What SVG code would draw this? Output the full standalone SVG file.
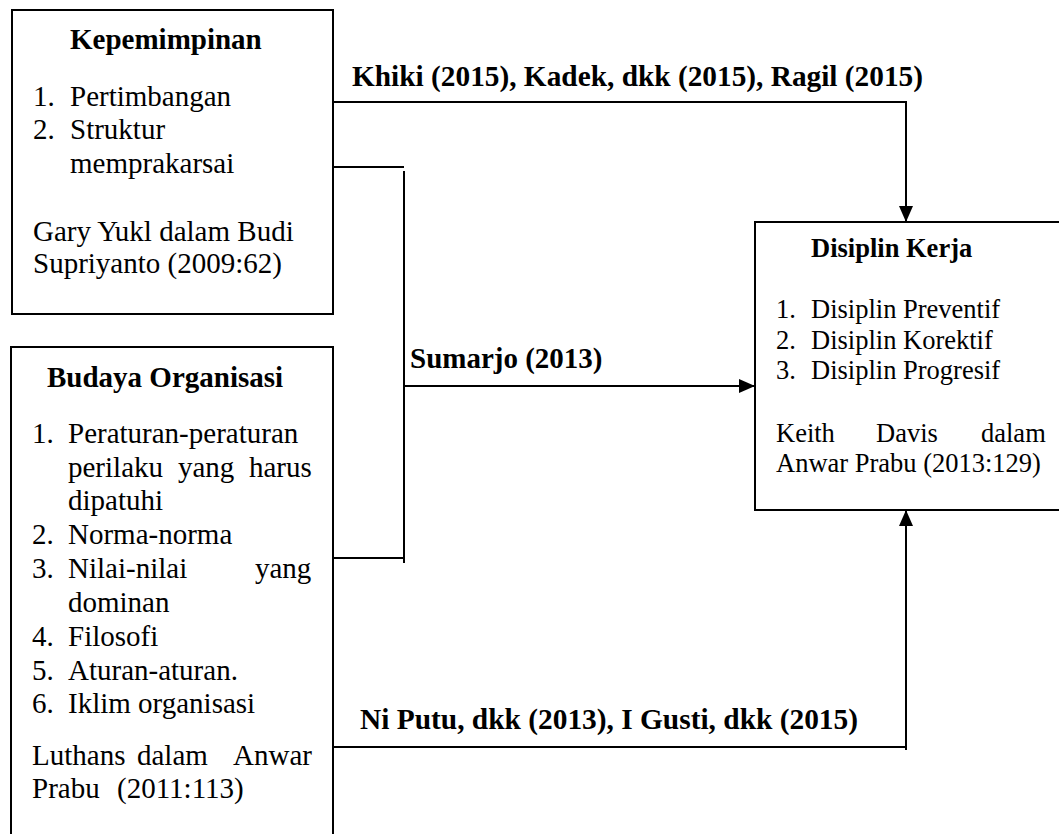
<svg xmlns="http://www.w3.org/2000/svg" width="1059" height="834" viewBox="0 0 1059 834" font-family="Liberation Serif, Times New Roman, serif">
<defs>
<marker id="arr" markerUnits="userSpaceOnUse" markerWidth="16" markerHeight="14" refX="16" refY="7" orient="auto">
<polygon points="0,0 16,7 0,14" fill="#000"/>
</marker>
<style>
.box{fill:#fff;stroke:#000;stroke-width:2}
.ln{fill:none;stroke:#000;stroke-width:2}
.t,.b,.s,.sb{font-family:'Liberation Serif','Times New Roman',serif;fill:#000}
.t{font-size:29px}
.b{font-size:29px;font-weight:bold}
.s{font-size:26.5px}
.sb{font-size:26.5px;font-weight:bold}
</style>
</defs>
<g id="connectors">
<path class="ln" d="M333,102 H906 V222" marker-end="url(#arr)"/>
<path class="ln" d="M333,167 H404"/>
<path class="ln" d="M404,171 V563"/>
<path class="ln" d="M333,558 H404"/>
<path class="ln" d="M404,386 H755" marker-end="url(#arr)"/>
<path class="ln" d="M333,747 H906"/>
<path class="ln" d="M906,750 V510" marker-end="url(#arr)"/>
<text class="b" x="352" y="86" textLength="571" lengthAdjust="spacingAndGlyphs">Khiki (2015), Kadek, dkk (2015), Ragil (2015)</text>
<text class="b" x="410" y="368">Sumarjo (2013)</text>
<text class="b" x="360" y="729" textLength="498" lengthAdjust="spacingAndGlyphs">Ni Putu, dkk (2013), I Gusti, dkk (2015)</text>
</g>
<g id="kepemimpinan">
<rect class="box" x="12" y="10" width="321" height="304"/>
<text class="b" x="70" y="49">Kepemimpinan</text>
<text class="t" x="33" y="106">1.</text><text class="t" x="70" y="106">Pertimbangan</text>
<text class="t" x="33" y="139">2.</text><text class="t" x="70" y="139">Struktur</text>
<text class="t" x="70" y="173">memprakarsai</text>
<text class="t" x="33" y="241">Gary Yukl dalam Budi</text>
<text class="t" x="33" y="273">Supriyanto (2009:62)</text>
</g>
<g id="budaya-organisasi">
<rect class="box" x="11" y="347" width="322" height="500"/>
<text class="b" x="47" y="387">Budaya Organisasi</text>
<text class="t" x="32" y="443">1.</text><text class="t" x="68" y="443">Peraturan-peraturan</text>
<text class="t" y="477"><tspan x="68">perilaku</tspan><tspan x="178">yang</tspan><tspan x="249">harus</tspan></text>
<text class="t" x="68" y="510">dipatuhi</text>
<text class="t" x="32" y="544">2.</text><text class="t" x="68" y="544">Norma-norma</text>
<text class="t" x="32" y="578">3.</text><text class="t" y="578"><tspan x="68">Nilai-nilai</tspan><tspan x="255">yang</tspan></text>
<text class="t" x="68" y="612">dominan</text>
<text class="t" x="32" y="646">4.</text><text class="t" x="68" y="646">Filosofi</text>
<text class="t" x="32" y="680">5.</text><text class="t" x="68" y="680">Aturan-aturan.</text>
<text class="t" x="32" y="713">6.</text><text class="t" x="68" y="713">Iklim organisasi</text>
<text class="t" y="765"><tspan x="32">Luthans</tspan><tspan x="137">dalam</tspan><tspan x="233">Anwar</tspan></text>
<text class="t" y="798"><tspan x="32">Prabu</tspan><tspan x="117">(2011:113)</tspan></text>
</g>
<g id="disiplin-kerja">
<rect class="box" x="755" y="222" width="320" height="288"/>
<text class="sb" x="811" y="257">Disiplin Kerja</text>
<text class="s" x="776" y="318">1.</text><text class="s" x="811" y="318">Disiplin Preventif</text>
<text class="s" x="776" y="349">2.</text><text class="s" x="811" y="349">Disiplin Korektif</text>
<text class="s" x="776" y="379">3.</text><text class="s" x="811" y="379">Disiplin Progresif</text>
<text class="s" y="442"><tspan x="776">Keith</tspan><tspan x="876">Davis</tspan><tspan x="981">dalam</tspan></text>
<text class="s" x="776" y="472">Anwar Prabu (2013:129)</text>
</g>
</svg>
